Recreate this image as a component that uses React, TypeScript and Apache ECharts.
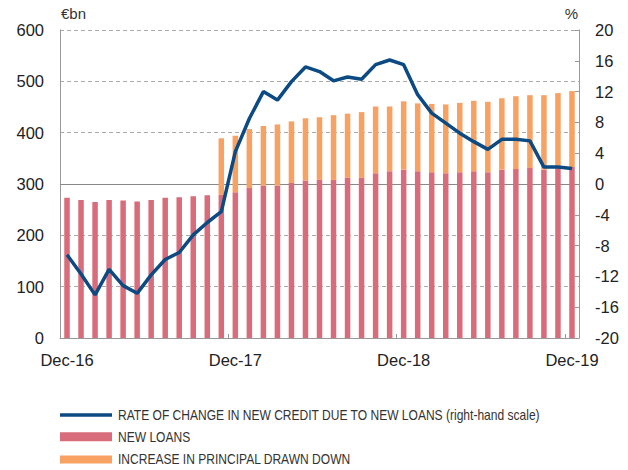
import React, { useEffect, useRef } from "react";
import * as echarts from "echarts";

const months = [
  "Dec-16", "Jan-17", "Feb-17", "Mar-17", "Apr-17", "May-17", "Jun-17", "Jul-17", "Aug-17", "Sep-17", "Oct-17", "Nov-17",
  "Dec-17", "Jan-18", "Feb-18", "Mar-18", "Apr-18", "May-18", "Jun-18", "Jul-18", "Aug-18", "Sep-18", "Oct-18", "Nov-18",
  "Dec-18", "Jan-19", "Feb-19", "Mar-19", "Apr-19", "May-19", "Jun-19", "Jul-19", "Aug-19", "Sep-19", "Oct-19", "Nov-19",
  "Dec-19",
];

const newLoans = [
  273, 269, 265, 269, 268, 266, 269, 273, 274, 276, 278, 279,
  284, 292, 297, 297, 302, 307, 308, 308, 312, 312, 321, 325,
  328, 325, 323, 321, 323, 325, 323, 328, 329, 331, 328, 331,
  333,
];

const principalIncrease = [
  null, null, null, null, null, null, null, null, null, null, null, 110,
  110, 115, 116, 119, 120, 121, 122, 126, 125, 128, 130, 126,
  133, 132, 133, 134, 135, 137, 137, 139, 142, 142, 145, 146,
  148,
];

const rateOfChange = [
  -9.2, -11.7, -14.4, -11.1, -13.2, -14.2, -11.8, -9.8, -8.9, -6.6, -5.0, -3.6,
  4.2, 8.5, 12.0, 10.9, 13.3, 15.2, 14.6, 13.4, 13.9, 13.6, 15.5, 16.1,
  15.5, 11.6, 9.2, 7.9, 6.6, 5.5, 4.5, 5.8, 5.8, 5.6, 2.2, 2.2,
  2.0,
];

const seriesNames = [
  "RATE OF CHANGE IN NEW CREDIT DUE TO NEW LOANS (right-hand scale)",
  "NEW LOANS",
  "INCREASE IN PRINCIPAL DRAWN DOWN",
];

const RED = "#D96C7B";
const ORANGE = "#F7A162";
const BLUE = "#0B4A82";
const FONT = "'Liberation Sans', Arial, Helvetica, sans-serif";

export default function App() {
  const ref = useRef<HTMLDivElement>(null);
  useEffect(() => {
    if (!ref.current) return;
    const chart = echarts.init(ref.current, undefined, { renderer: "svg" });

    const legendRows = [
      { name: seriesNames[0], color: BLUE, y: 415, h: 3.5 },
      { name: seriesNames[1], color: RED, y: 436.8, h: 9 },
      { name: seriesNames[2], color: ORANGE, y: 459.5, h: 8 },
    ];
    const legendGraphics: any[] = [];
    legendRows.forEach((r) => {
      legendGraphics.push({
        type: "rect",
        shape: { x: 60, y: r.y - r.h / 2, width: 52, height: r.h },
        style: { fill: r.color },
        silent: true,
      });
      legendGraphics.push({
        type: "text",
        x: 118,
        y: r.y,
        scaleX: 0.86,
        style: {
          text: r.name,
          fontFamily: FONT,
          fontSize: 14,
          fill: "#333",
          verticalAlign: "middle",
          align: "left",
        },
        silent: true,
      });
    });

    chart.setOption({
      animation: false,
      backgroundColor: "#ffffff",
      grid: { left: 60, right: 49, top: 30, bottom: 132, containLabel: false },
      graphic: [
        { type: "text", left: 61, top: 6, style: { text: "€bn", fontFamily: FONT, fontSize: 15, fill: "#333" } },
        { type: "text", right: 50, top: 6, style: { text: "%", fontFamily: FONT, fontSize: 15, fill: "#333" } },
        ...legendGraphics,
      ],
      xAxis: {
        type: "category",
        data: months,
        boundaryGap: true,
        axisLine: { show: true, lineStyle: { color: "#999", width: 1 } },
        axisTick: {
          show: true,
          inside: true,
          length: 4,
          interval: (i: number) => i % 12 === 0,
          lineStyle: { color: "#999" },
        },
        axisLabel: {
          interval: (i: number) => i % 12 === 0,
          fontFamily: FONT,
          fontSize: 16.5,
          color: "#222",
          margin: 13,
        },
        splitLine: { show: false },
      },
      yAxis: [
        {
          type: "value",
          min: 0,
          max: 600,
          interval: 100,
          axisLine: { show: true, lineStyle: { color: "#999" } },
          axisTick: { show: false },
          axisLabel: { fontFamily: FONT, fontSize: 16.5, color: "#222", margin: 16 },
          splitLine: { show: true, lineStyle: { color: "#aaa", type: [4, 3], width: 1 } },
        },
        {
          type: "value",
          min: -20,
          max: 20,
          interval: 4,
          position: "right",
          axisLine: { show: true, lineStyle: { color: "#999" } },
          axisTick: { show: true, inside: true, length: 4, lineStyle: { color: "#999" } },
          axisLabel: { fontFamily: FONT, fontSize: 16.5, color: "#222", margin: 16 },
          splitLine: { show: false },
        },
      ],
      series: [
        {
          name: seriesNames[1],
          type: "bar",
          stack: "total",
          data: newLoans,
          barWidth: 5.5,
          itemStyle: { color: RED },
          z: 2,
        },
        {
          name: seriesNames[2],
          type: "bar",
          stack: "total",
          data: principalIncrease,
          barWidth: 5.5,
          itemStyle: { color: ORANGE },
          z: 2,
        },
        {
          name: seriesNames[0],
          type: "line",
          yAxisIndex: 1,
          data: rateOfChange,
          symbol: "none",
          lineStyle: { color: BLUE, width: 3.5 },
          itemStyle: { color: BLUE },
          z: 5,
          markLine: {
            silent: true,
            symbol: "none",
            label: { show: false },
            lineStyle: { color: "#888", type: "solid", width: 1.2 },
            data: [{ yAxis: 0 }],
            z: 1,
          },
        },
      ],
    });
    return () => chart.dispose();
  }, []);
  return <div ref={ref} style={{ position: "fixed", left: 0, top: 0, width: 628, height: 470 }} />;
}
